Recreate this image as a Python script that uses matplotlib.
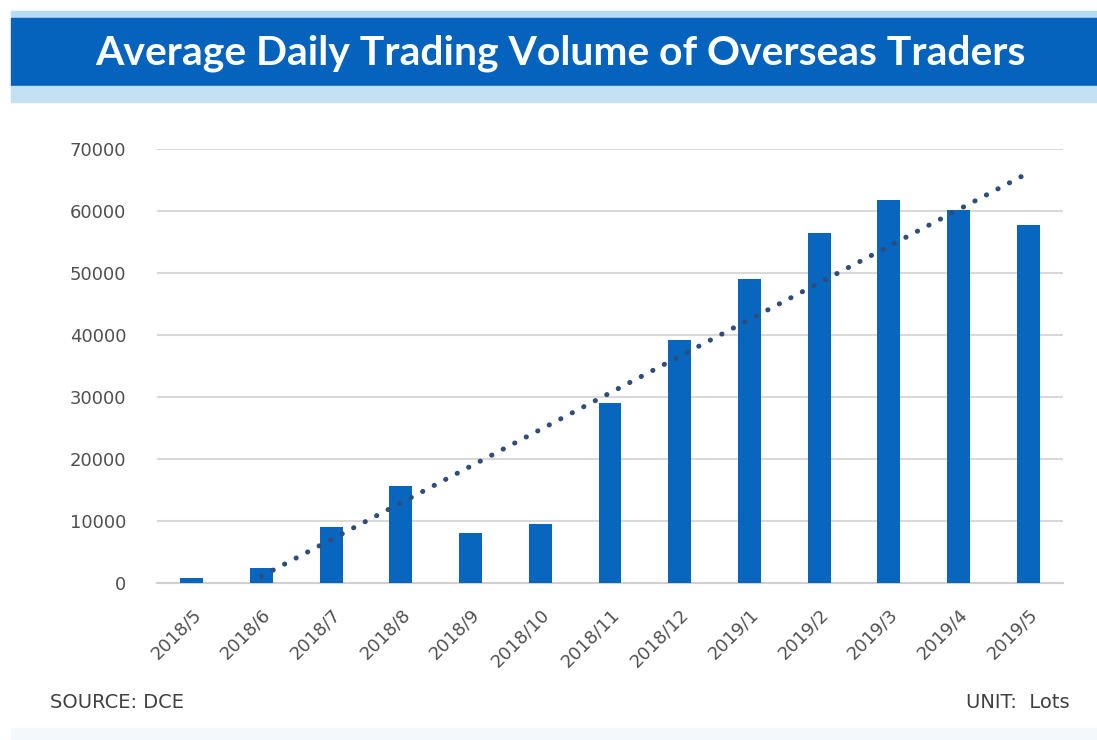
import numpy as np
import matplotlib
matplotlib.use("Agg")
import matplotlib.pyplot as plt
from matplotlib.patches import Rectangle

months = ["2018/5", "2018/6", "2018/7", "2018/8", "2018/9", "2018/10", "2018/11",
          "2018/12", "2019/1", "2019/2", "2019/3", "2019/4", "2019/5"]
volume = [800, 2400, 9000, 15700, 8150, 9500, 29000, 39200, 49000, 56400, 61800, 60200, 57750]
y_ticks = [0, 10000, 20000, 30000, 40000, 50000, 60000, 70000]
title = "Average Daily Trading Volume of Overseas Traders"
source_text = "SOURCE: DCE"
unit_text = "UNIT:  Lots"

W, H = 1097, 740
fig = plt.figure(figsize=(W / 100, H / 100), dpi=100)
fig.patch.set_facecolor("white")

# Header band
def band(y0, y1, x0, color):
    fig.patches.append(Rectangle((x0 / W, 1 - y1 / H), 1 - x0 / W, (y1 - y0) / H,
                                 transform=fig.transFigure, color=color, zorder=0))

band(11, 18, 11, "#B5DCF4")
band(18, 86, 11, "#0563BE")
band(86, 102, 11, "#C3E0F4")
band(728, 740, 11, "#F3F8FC")

t = fig.text(560 / W, 1 - 53 / H, title, ha="center", va="center", color="white",
             fontsize=30, fontweight="bold", family="Lato")
fig.canvas.draw()
w = t.get_window_extent().width
t.set_fontsize(30 * 930 / w)

ax = fig.add_axes([157 / W, 1 - 583.3 / H, (1063 - 157) / W, (583.3 - 149) / H])
x = np.arange(len(months))
ax.bar(x, volume, width=0.33, color="#0866BE", zorder=3)

# linear trendline
coef = np.polyfit(x, volume, 1)
xt = np.array([1, len(months) - 1])
ax.plot(xt, np.polyval(coef, xt), color="#2E4D7B", lw=3.6,
        linestyle=(0, (0.05, 2.55)), dash_capstyle="round", zorder=4)

ax.set_xlim(-0.5, len(months) - 0.5)
ax.set_ylim(0, 70000)
ax.set_yticks(y_ticks)
ax.set_yticklabels([str(v) for v in y_ticks])
ax.set_xticks(x)
ax.set_xticklabels(months, rotation=45, ha="right", rotation_mode="anchor")
ax.tick_params(axis="both", length=0, colors="#505050", labelsize=13)
ax.tick_params(axis="y", pad=22)
ax.tick_params(axis="x", pad=16)
for s in ["top", "right", "left"]:
    ax.spines[s].set_visible(False)
ax.spines["bottom"].set_color("#D0D0D0")
ax.spines["bottom"].set_linewidth(1.5)
ax.grid(axis="y", color="#D9D9D9", linewidth=1.5, zorder=0)
ax.set_axisbelow(True)

fig.text(50 / W, 1 - 703 / H, source_text, ha="left", va="center", fontsize=14, color="#404040")
fig.text(1070 / W, 1 - 703 / H, unit_text, ha="right", va="center", fontsize=14, color="#404040")

fig.savefig("out.png", dpi=100)
